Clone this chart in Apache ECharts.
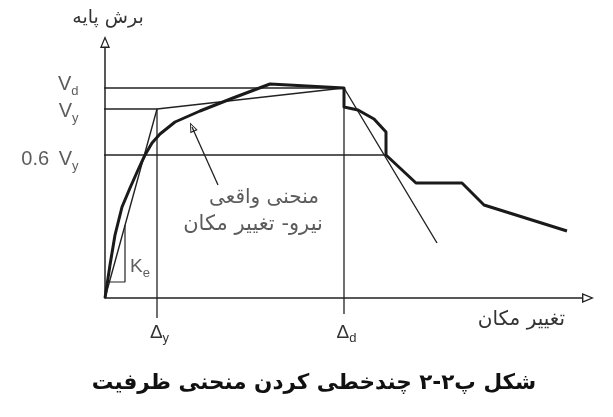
<!DOCTYPE html>
<html><head><meta charset="utf-8">
<script src="https://cdn.jsdelivr.net/npm/echarts@6/dist/echarts.min.js"></script>
<style>html,body{margin:0;padding:0;background:#fff}#c{width:613px;height:417px}</style>
</head><body><div id="c"></div>
<script>
// ---- data (schematic units) ----
const actualCurve = [[0,0],[5,33],[10,63],[17,91],[25,110],[33,128],[40,143],[47,155],[55,164],[70,176],[95,187],[128,200],[165,214],[239,210],[239,191],[253,188],[269,179],[281,166],[281,143],[311,115],[357,115],[379,93],[462,67]];
const bilinearCurve = [[0,0],[52,189],[239,210],[332,55]];
const keTriangle = [[4,16],[20,16],[20,73]];
const yLevelValues = [143,189,210];
const yLevelLabels = ['0.6\u2009 V|y','V|y','V|d'];
const yLevelLineFrom = [-10,-15,-19];
const yLevelLineTo = [280,52,239];
const xLevelValues = [52,239];
const xLevelLabels = ['Δ|y','Δ|d'];
const xLevelLineTop = [189,210];
const xLevelLineBottom = [-20,-16];
const pointerLine = [[113,113],[87,171]];
const noteLines = ['منحنی واقعی','نیرو- تغییر مکان'];
const notePoints = [[159,100],[148,73]];
const kePoint = [[25,31]];
const xAxisMax = 477, yAxisMax = 250;
const yAxisName = 'برش پایه';
const xAxisName = 'تغییر مکان';
const titleText = 'شکل پ۲-۲ چندخطی کردن منحنی ظرفیت';

const LATIN = 'Liberation Sans';
const FA = 'DejaVu Sans';
const INK = '#222';
const TXT = '#333';
const hollowArrow = 'path://M5,0 L10,12 L0,12 Z M5,3.2 L1.9,10.6 L8.1,10.6 Z';

function subLabel(str){
  const p = str.split('|');
  return '{m|' + p[0] + '}{s|' + p[1] + '}';
}
const richSub = {
  m:{fontFamily:LATIN,fontSize:20,color:TXT,lineHeight:16,verticalAlign:'top'},
  s:{fontFamily:LATIN,fontSize:13,color:TXT,lineHeight:10,padding:[11,0,0,0],verticalAlign:'top'}
};
const levelLabelShift = [2, 0, -6];

const thin = {color:INK,width:1.3};
const series = [];
// horizontal level lines
yLevelValues.forEach((v,i)=>{
  series.push({type:'line',data:[[yLevelLineFrom[i],v],[yLevelLineTo[i],v]],symbol:'none',clip:false,lineStyle:thin,silent:true});
});
// vertical level lines
xLevelValues.forEach((v,i)=>{
  series.push({type:'line',data:[[v,xLevelLineTop[i]],[v,xLevelLineBottom[i]]],symbol:'none',clip:false,lineStyle:thin,silent:true});
});
series.push({type:'line',data:bilinearCurve,symbol:'none',clip:false,lineStyle:{color:INK,width:1.4},silent:true});
series.push({type:'line',data:keTriangle,symbol:'none',clip:false,lineStyle:{color:INK,width:1.2},silent:true});
series.push({type:'line',data:actualCurve,symbol:'none',clip:false,lineStyle:{color:'#1a1a1a',width:3,join:'round'},silent:true,
  markLine:{silent:true,symbol:['none',hollowArrow],symbolSize:[8,10],label:{show:false},lineStyle:{color:INK,width:1.3,type:'solid'},
    data:[[{coord:pointerLine[0]},{coord:pointerLine[1]}]]}});
// level labels on the vertical axis
series.push({type:'scatter',symbolSize:1,itemStyle:{color:'rgba(0,0,0,0)'},silent:true,clip:false,
  data:yLevelValues.map((v,i)=>({value:[0,v],label:{formatter:subLabel(yLevelLabels[i]),offset:[0,levelLabelShift[i]]}})),
  label:{show:true,position:'left',distance:26,color:TXT,textBorderWidth:0,rich:richSub}});
// annotation text
noteLines.forEach((t,i)=>{
  series.push({type:'scatter',data:[notePoints[i]],symbolSize:1,itemStyle:{color:'rgba(0,0,0,0)'},silent:true,
    label:{show:true,position:'inside',formatter:t,fontFamily:FA,fontSize:i===0?20:21,color:TXT,textBorderWidth:0,align:'center',verticalAlign:'middle'}});
});
series.push({type:'scatter',data:kePoint,symbolSize:1,itemStyle:{color:'rgba(0,0,0,0)'},silent:true,
  label:{show:true,position:'inside',color:TXT,textBorderWidth:0,formatter:subLabel('K|e'),rich:{m:{fontFamily:LATIN,fontSize:19,color:TXT,lineHeight:20,verticalAlign:'top'},s:{fontFamily:LATIN,fontSize:13,color:TXT,lineHeight:13,padding:[10,0,0,0],verticalAlign:'top'}},align:'left',verticalAlign:'middle'}});

const option = {
  animation:false,
  backgroundColor:'#fff',
  grid:{left:105,right:613-105-xAxisMax,top:48,bottom:119,outerBoundsMode:'none'},
  xAxis:{type:'value',min:0,max:xAxisMax,
    name:xAxisName,nameLocation:'end',nameGap:-17,
    nameTextStyle:{fontFamily:FA,fontSize:20,color:TXT,align:'right',verticalAlign:'top',padding:[12,0,0,0]},
    axisLine:{show:true,onZero:false,symbol:['none',hollowArrow],symbolSize:[10,12],symbolOffset:[0,6],lineStyle:{color:INK,width:1.5}},
    axisTick:{show:false},splitLine:{show:false},
    axisLabel:{customValues:xLevelValues,hideOverlap:false,margin:25,formatter:v=>subLabel(xLevelLabels[xLevelValues.indexOf(v)]),rich:{
      m:{fontFamily:LATIN,fontSize:19,color:TXT,lineHeight:20,padding:[0,0,0,5],verticalAlign:'top'},
      s:{fontFamily:LATIN,fontSize:13,color:TXT,lineHeight:13,padding:[9,0,0,0],verticalAlign:'top'}}}
  },
  yAxis:{type:'value',min:0,max:yAxisMax,
    name:yAxisName,nameLocation:'end',nameGap:20,
    nameTextStyle:{fontFamily:FA,fontSize:19,color:TXT,padding:[0,0,0,6]},
    axisLine:{show:true,onZero:false,symbol:['none',hollowArrow],symbolSize:[10,12],symbolOffset:[0,6],lineStyle:{color:INK,width:1.5}},
    axisTick:{show:false},splitLine:{show:false},axisLabel:{show:false}
  },
  graphic:[{type:'text',x:314,y:383,style:{text:titleText,font:'bold 21.5px "DejaVu Sans"',fill:'#111',align:'center',verticalAlign:'middle'}}],
  series:series
};
const chart = echarts.init(document.getElementById('c'),null,{renderer:'canvas'});
chart.setOption(option);
</script>
</body></html>
